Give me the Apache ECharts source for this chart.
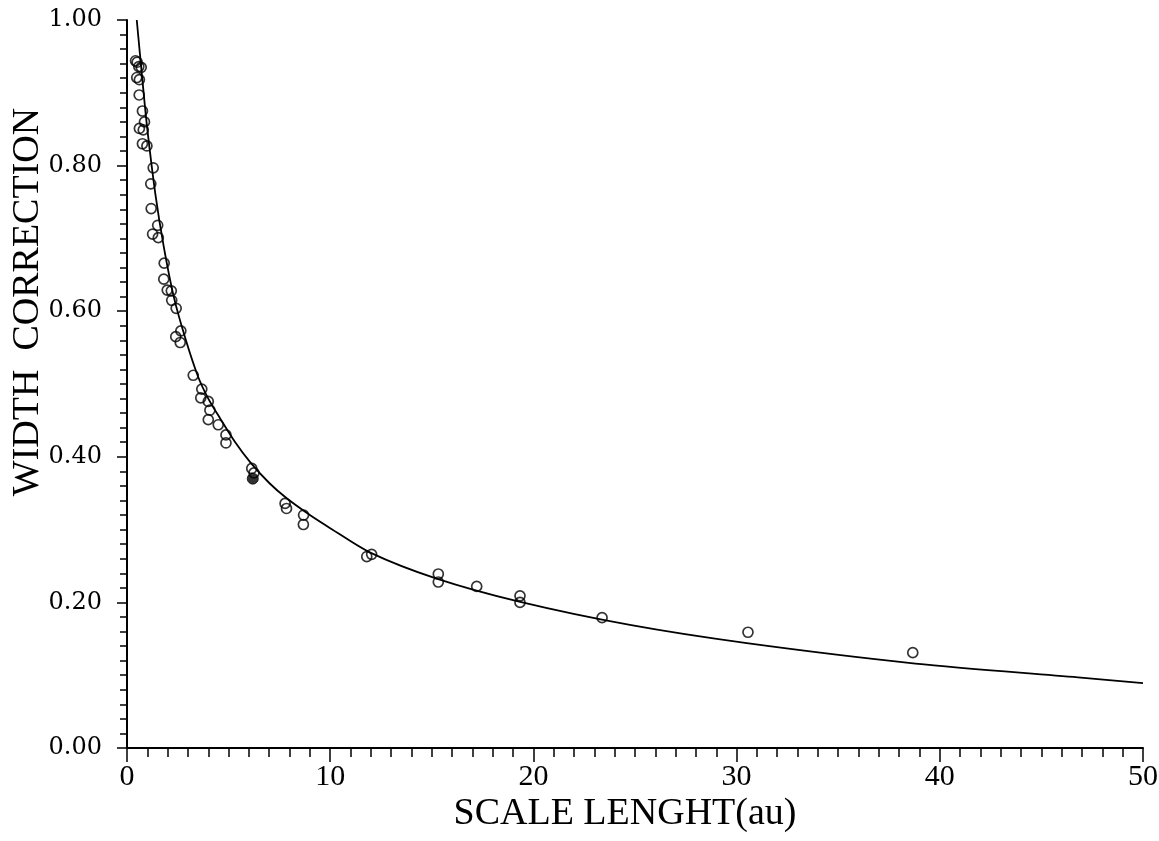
<!DOCTYPE html>
<html lang="en">
<head>
    <meta charset="UTF-8">
    <title>Width correction</title>
    <script src="https://cdn.jsdelivr.net/npm/echarts@6/dist/echarts.min.js"></script>
    <style>
        html, body { margin: 0; padding: 0; background: #fff; }
        #chart { width: 1159px; height: 841px; }
    </style>
</head>
<body>
    <div id="chart"></div>
    <script>
        // measured points (open circles)
        var pointX = [0.42, 0.50, 0.58, 0.70, 0.48, 0.61, 0.60, 0.76, 0.86, 0.80, 0.61, 0.76, 0.98,
            1.29, 1.17, 1.19, 1.51, 1.26, 1.54, 1.83, 1.81, 1.98, 2.18, 2.20, 2.42, 2.65, 2.40, 2.62,
            3.26, 3.68, 3.63, 4.00, 4.08, 4.00, 4.49, 4.87, 4.87, 6.14, 6.25, 7.78, 7.85, 8.69, 8.68,
            11.80, 12.04, 15.32, 15.32, 17.21, 19.34, 19.34, 23.38, 30.56, 38.67];
        var pointY = [0.944, 0.942, 0.936, 0.935, 0.921, 0.918, 0.897, 0.875, 0.860, 0.849, 0.851, 0.830, 0.827,
            0.797, 0.775, 0.741, 0.718, 0.706, 0.701, 0.666, 0.644, 0.629, 0.628, 0.615, 0.604, 0.573, 0.565, 0.557,
            0.512, 0.493, 0.481, 0.476, 0.464, 0.451, 0.444, 0.430, 0.419, 0.384, 0.378, 0.336, 0.329, 0.320, 0.307,
            0.263, 0.266, 0.239, 0.228, 0.222, 0.209, 0.200, 0.179, 0.159, 0.131];
        // the one filled point
        var filledX = [6.19];
        var filledY = [0.370];
        // fitted curve
        var curveX = [0.48, 0.75, 1.0, 1.4, 1.8, 2.3, 2.9, 3.5, 4.0, 4.6, 5.3, 6.05, 7.0, 7.86, 9.0, 10.0, 12.0, 15.2, 19.3, 24.75, 30.5, 38.8, 46.8, 50];
        var curveY = [1.00, 0.92, 0.85, 0.76, 0.69, 0.62, 0.56, 0.51, 0.48, 0.452, 0.421, 0.393, 0.364, 0.343, 0.320, 0.302, 0.268, 0.233, 0.201, 0.169, 0.144, 0.116, 0.097, 0.089];

        function pairs(xs, ys) {
            var out = [];
            for (var i = 0; i < xs.length; i++) {
                out.push([xs[i], ys[i]]);
            }
            return out;
        }

        var myChart = echarts.init(document.getElementById('chart'));
        var serif = 'DejaVu Serif';
        var titleFont = 'Liberation Serif';

        var option = {
            animation: false,
            backgroundColor: '#fff',
            grid: { left: 127, right: 16, top: 20, bottom: 93, containLabel: false, outerBoundsMode: 'none' },
            xAxis: {
                type: 'value',
                min: 0, max: 50, interval: 10,
                name: 'SCALE LENGHT(au)',
                nameLocation: 'middle',
                nameGap: 47,
                nameMoveOverlap: false,
                nameTextStyle: { fontFamily: titleFont, fontSize: 38, color: '#000', padding: [0, 20, 0, 0] },
                axisLine: { show: true, onZero: false, lineStyle: { color: '#000', width: 2 } },
                axisTick: { show: true, inside: false, length: 14, lineStyle: { color: '#000', width: 1.5 } },
                minorTick: { show: true, splitNumber: 10, length: 9, lineStyle: { color: '#000', width: 1.5 } },
                axisLabel: { fontFamily: titleFont, fontSize: 30, color: '#000', margin: 14 },
                splitLine: { show: false }
            },
            yAxis: {
                type: 'value',
                min: 0, max: 1, interval: 0.2,
                name: 'WIDTH  CORRECTION',
                nameLocation: 'middle',
                nameGap: 80,
                nameMoveOverlap: false,
                nameTextStyle: { fontFamily: titleFont, fontSize: 38, color: '#000', padding: [0, 0, 0, 164] },
                axisLine: { show: true, onZero: false, lineStyle: { color: '#000', width: 2 } },
                axisTick: { show: true, inside: false, length: 10, lineStyle: { color: '#000', width: 1.5 } },
                minorTick: { show: true, splitNumber: 10, length: 7, lineStyle: { color: '#000', width: 1.5 } },
                axisLabel: {
                    fontFamily: serif, fontSize: 24, color: '#000', margin: 25,
                    formatter: function (v) { return v.toFixed(2); }
                },
                splitLine: { show: false }
            },
            series: [
                {
                    name: 'fit',
                    type: 'line',
                    smooth: 0.3,
                    symbol: 'none',
                    lineStyle: { color: '#000', width: 1.8 },
                    data: pairs(curveX, curveY),
                    z: 2
                },
                {
                    name: 'open',
                    type: 'scatter',
                    symbol: 'circle',
                    symbolSize: 10,
                    itemStyle: { color: 'rgba(255,255,255,0)', borderColor: '#000', borderWidth: 1.7 },
                    data: pairs(pointX, pointY),
                    z: 3
                },
                {
                    name: 'filled',
                    type: 'scatter',
                    symbol: 'circle',
                    symbolSize: 11,
                    itemStyle: { color: '#000', borderColor: '#000', borderWidth: 1 },
                    data: pairs(filledX, filledY),
                    z: 3
                }
            ]
        };

        myChart.setOption(option);
    </script>
</body>
</html>
